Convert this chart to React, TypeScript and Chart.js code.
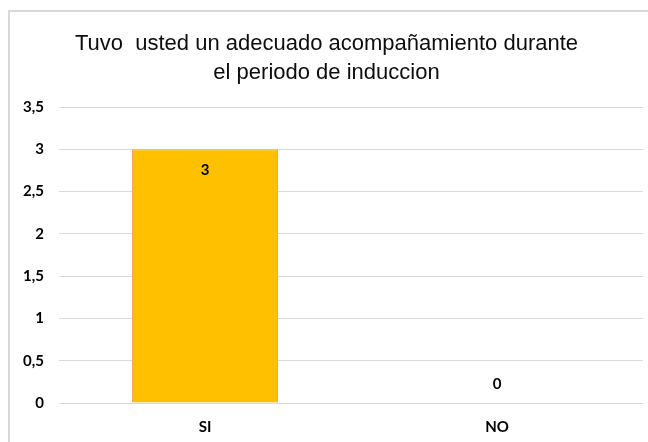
import React, { useEffect, useRef } from "react";
import { Chart, registerables } from "chart.js";

Chart.register(...registerables);

const titleLines = ["Tuvo  usted un adecuado acompañamiento durante", "el periodo de induccion"];
const categories = ["SI", "NO"];
const values = [3, 0];
const yMin = 0;
const yMax = 3.5;
const yStep = 0.5;

const labelPlugin = {
  id: "barLabels",
  afterDatasetsDraw(chart: any) {
    const ctx = chart.ctx;
    const meta = chart.getDatasetMeta(0);
    ctx.save();
    ctx.font = "bold 15px Lato, 'Open Sans', sans-serif";
    ctx.fillStyle = "#000000";
    ctx.textAlign = "center";
    ctx.textBaseline = "middle";
    meta.data.forEach((bar: any, i: number) => {
      const v = values[i];
      const y = v > 0 ? bar.y + 21 : bar.y - 19;
      ctx.fillText(String(v), bar.x, y);
    });
    ctx.restore();
  },
};

export default function App() {
  const ref = useRef<HTMLCanvasElement>(null);
  useEffect(() => {
    if (!ref.current) return;
    const chart = new Chart(ref.current, {
      type: "bar",
      data: {
        labels: categories,
        datasets: [
          {
            data: values,
            backgroundColor: "#FFC000",
            borderColor: "#F4A35E",
            borderWidth: 1,
            categoryPercentage: 1,
            barPercentage: 0.5,
          },
        ],
      },
      options: {
        animation: false,
        responsive: false,
        layout: { padding: { left: 0, right: 5, top: 0, bottom: 0 } },
        plugins: {
          legend: { display: false },
          tooltip: { enabled: false },
          title: {
            display: true,
            text: titleLines,
            color: "#0d0d0d",
            font: { family: "'Liberation Sans', Arial, sans-serif", size: 22, weight: "normal", lineHeight: 1.32 },
            padding: { top: 17, bottom: 20 },
          },
        },
        scales: {
          x: {
            grid: { display: false, drawTicks: false },
            border: { display: false },
            ticks: {
              color: "#000000",
              font: { family: "Lato, 'Open Sans', sans-serif", size: 15, weight: "bold" },
              padding: 15,
            },
            afterFit: (s: any) => {
              s.height = 39;
            },
          },
          y: {
            min: yMin,
            max: yMax,
            ticks: {
              stepSize: yStep,
              color: "#000000",
              padding: 15,
              font: { family: "Lato, 'Open Sans', sans-serif", size: 15, weight: "bold" },
              callback: (v: any) => String(v).replace(".", ","),
            },
            grid: { color: "#D9D9D9", lineWidth: 1, drawTicks: false },
            border: { display: false },
            afterFit: (s: any) => {
              s.width = 49;
            },
          },
        },
      },
      plugins: [labelPlugin],
    });
    return () => chart.destroy();
  }, []);

  return (
    <div
      style={{
        position: "absolute",
        left: 8,
        top: 10,
        width: 640,
        height: 432,
        borderTop: "2px solid #D9D9D9",
        borderLeft: "2px solid #D9D9D9",
        boxSizing: "border-box",
        background: "#fff",
      }}
    >
      <canvas ref={ref} width={638} height={430} style={{ display: "block" }} />
    </div>
  );
}
